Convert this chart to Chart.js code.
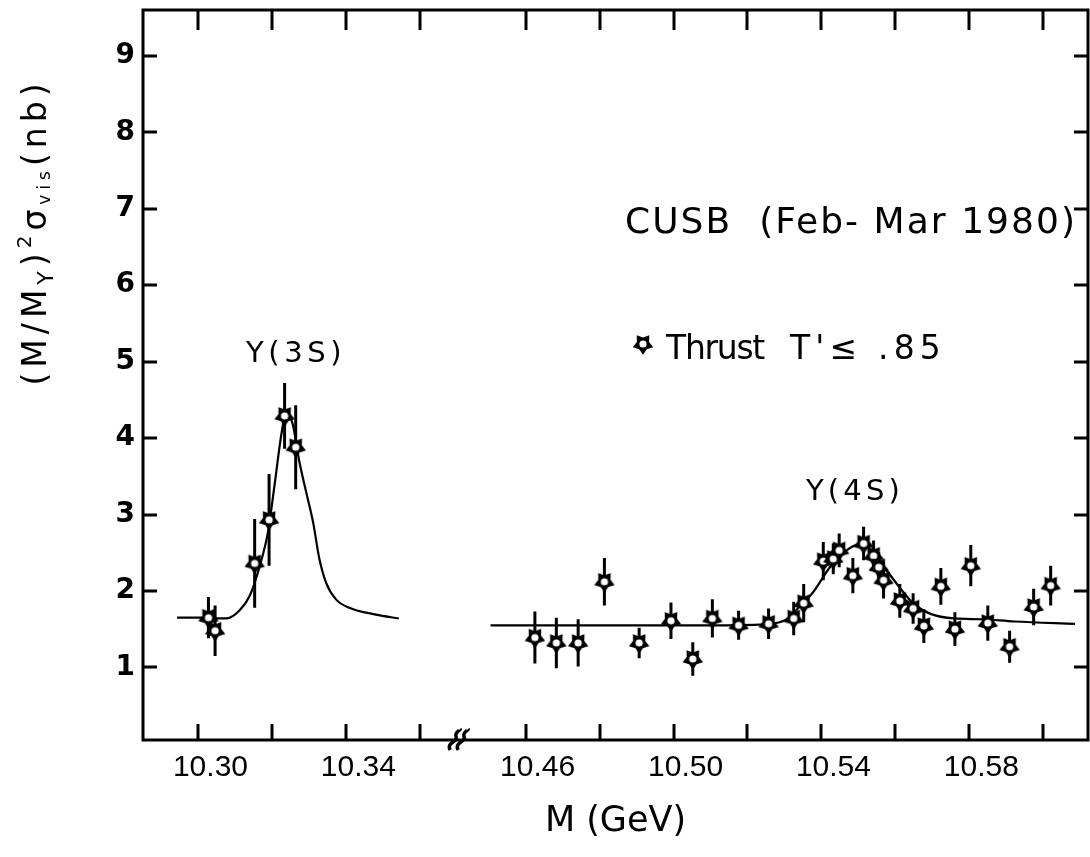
<!DOCTYPE html>
<html><head><meta charset="utf-8">
<script src="https://cdn.jsdelivr.net/npm/chart.js@4/dist/chart.umd.min.js"></script>
<style>html,body{margin:0;padding:0;background:#fff;overflow:hidden}#wrap{width:1090px;height:857px;position:relative}</style>
</head><body><div id="wrap"><canvas id="c"></canvas></div>
<script>
// ---- data ----
const mass3S  = [10.3027, 10.3045, 10.3152, 10.3191, 10.3233, 10.3263];
const sigma3S = [1.65, 1.48, 2.36, 2.93, 4.29, 3.88];
const err3S   = [0.27, 0.33, 0.58, 0.60, 0.43, 0.55];

const mass4S  = [10.4625,10.4683,10.4742,10.4813,10.4907,10.4993,10.5052,10.5105,10.5176,10.5257,
                 10.5325,10.5352,10.5405,10.5432,10.5448,10.5485,10.5514,10.5541,10.5555,10.5568,
                 10.5612,10.5648,10.5677,10.5723,10.5761,10.5804,10.5850,10.5909,10.5974,10.6020];
const sigma4S = [1.39,1.32,1.32,2.12,1.32,1.61,1.11,1.64,1.55,1.57,
                 1.64,1.84,2.39,2.42,2.53,2.20,2.62,2.46,2.31,2.14,
                 1.87,1.77,1.54,2.06,1.50,2.33,1.58,1.27,1.79,2.07];
const err4S   = [0.34,0.33,0.31,0.31,0.20,0.24,0.22,0.25,0.19,0.20,
                 0.22,0.25,0.25,0.20,0.22,0.23,0.22,0.20,0.20,0.24,
                 0.22,0.20,0.22,0.24,0.22,0.27,0.23,0.21,0.24,0.26];

const fit3SMass  = [10.2942,10.3005,10.3076,10.3112,10.3139,10.3166,10.3188,10.3206,10.3224,10.3238,
                    10.3255,10.3273,10.3291,10.3310,10.3327,10.3345,10.3372,10.3408,10.3480,10.3542];
const fit3SSigma = [1.65,1.65,1.64,1.75,1.94,2.33,2.77,3.39,4.04,4.35,
                    4.18,3.69,3.30,2.90,2.42,2.11,1.89,1.78,1.69,1.64];

const fit4SMass  = [10.4505,10.4796,10.5069,10.5232,10.5287,10.5314,10.5341,10.5377,10.5423,10.5468,
                    10.5496,10.5532,10.5567,10.5614,10.5650,10.5695,10.5759,10.5832,10.5922,10.6086];
const fit4SSigma = [1.55,1.55,1.55,1.56,1.59,1.65,1.80,1.98,2.31,2.53,
                    2.60,2.55,2.33,2.03,1.83,1.70,1.64,1.63,1.60,1.57];

const xTickValues = [10.30,10.32,10.34,10.36,10.46,10.48,10.50,10.52,10.54,10.56,10.58,10.60];
const xTickLabels = ['10.30','10.34','10.46','10.50','10.54','10.58'];
const yTickValues = [1,2,3,4,5,6,7,8,9];

// ---- broken axis mapping ----
const GAP_SHIFT = 0.0715;      // width of the removed mass interval
const GAP_SPLIT = 10.40;       // masses above this lie on the right segment
const AXIS_SPLIT = 10.375;     // same split in axis units
const BREAK_MASS = 10.3705;    // where the break mark sits
const toAxis = m => (m > GAP_SPLIT ? m - GAP_SHIFT : m);
const fromAxis = a => (a > AXIS_SPLIT ? a + GAP_SHIFT : a);
const X_MIN = 10.285, X_MAX = 10.5406;

function makeStar(size) {
  const c = document.createElement('canvas');
  c.width = size; c.height = size;
  const g = c.getContext('2d');
  const cx = size / 2, cy = size / 2, R = size / 2 - 0.3, r = R * 0.6;
  g.beginPath();
  for (let i = 0; i < 10; i++) {
    const ang = Math.PI / 2 + i * Math.PI / 5;
    const rad = i % 2 === 0 ? R : r;
    const x = cx + rad * Math.cos(ang), y = cy + rad * Math.sin(ang);
    if (i === 0) g.moveTo(x, y); else g.lineTo(x, y);
  }
  g.closePath(); g.fillStyle = '#000'; g.fill();
  g.beginPath(); g.arc(cx, cy, 3.6, 0, 2 * Math.PI); g.fillStyle = '#fff'; g.fill();
  return c;
}
const starImg = makeStar(22);

function pts(ms, vs) { return ms.map((m, i) => ({ x: toAxis(m), y: vs[i] })); }
function errPts(ms, vs, es) {
  const out = [];
  ms.forEach((m, i) => {
    out.push({ x: toAxis(m), y: vs[i] - es[i] }, { x: toAxis(m), y: vs[i] + es[i] }, { x: toAxis(m), y: null });
  });
  return out;
}

function fitText(ctx, text, x, y, font, targetW) {
  ctx.font = font;
  ctx.letterSpacing = '0px';
  const w = ctx.measureText(text).width;
  const n = [...text].length;
  if (targetW) ctx.letterSpacing = ((targetW - w) / n) + 'px';
  ctx.fillText(text, x, y);
  ctx.letterSpacing = '0px';
}

const zeroPad = s => { s.paddingTop = 0; s.paddingBottom = 0; s.paddingLeft = 0; s.paddingRight = 0; };

const decor = {
  id: 'decor',
  afterDraw(chart) {
    const ctx = chart.ctx, a = chart.chartArea;
    const xs = chart.scales.x, ys = chart.scales.y;
    ctx.save();
    ctx.strokeStyle = '#000'; ctx.fillStyle = '#000';
    ctx.lineWidth = 3; ctx.lineCap = 'butt';
    ctx.strokeRect(a.left, a.top, a.right - a.left, a.bottom - a.top);
    ctx.beginPath();
    xTickValues.forEach(v => {
      const px = Math.round(xs.getPixelForValue(toAxis(v)));
      ctx.moveTo(px, a.bottom); ctx.lineTo(px, a.bottom - 16);
      ctx.moveTo(px, a.top); ctx.lineTo(px, a.top + 20);
    });
    yTickValues.forEach(v => {
      const py = Math.round(ys.getPixelForValue(v));
      ctx.moveTo(a.left, py); ctx.lineTo(a.left + 14, py);
      ctx.moveTo(a.right, py); ctx.lineTo(a.right - 14, py);
    });
    ctx.stroke();
    // break mark
    const bx = xs.getPixelForValue(BREAK_MASS), by = a.bottom;
    ctx.lineWidth = 3.5;
    [-4, 4].forEach(d => {
      ctx.beginPath();
      ctx.moveTo(bx + d - 5, by + 10);
      ctx.bezierCurveTo(bx + d - 9, by + 2, bx + d + 3, by + 2, bx + d + 1, by - 3);
      ctx.bezierCurveTo(bx + d - 1, by - 8, bx + d + 6, by - 10, bx + d + 5, by - 11);
      ctx.stroke();
    });
    // y title with sub/superscripts
    ctx.translate(37, 232);
    ctx.rotate(-Math.PI / 2);
    ctx.textBaseline = 'middle';
    const segs = [
      { t: '(M/M', f: 33, dy: 0 }, { t: 'Υ', f: 22, dy: 10 }, { t: ')', f: 33, dy: 0 },
      { t: '2', f: 20, dy: -11 }, { t: 'σ', f: 33, dy: 0 }, { t: 'vis', f: 17, dy: 9 }, { t: '(nb)', f: 33, dy: 0 }
    ];
    const fam = '"DejaVu Sans"';
    const spacing = 5;
    let total = 0;
    segs.forEach(s => { ctx.font = s.f + 'px ' + fam; s.w = ctx.measureText(s.t).width + spacing * [...s.t].length; total += s.w; });
    let cx = -total / 2;
    segs.forEach(s => {
      ctx.font = s.f + 'px ' + fam;
      ctx.letterSpacing = spacing + 'px';
      ctx.fillText(s.t, cx, s.dy);
      cx += s.w;
    });
    ctx.letterSpacing = '0px';
    ctx.restore();

    // annotations
    ctx.save();
    ctx.fillStyle = '#000';
    ctx.textBaseline = 'alphabetic';
    ctx.textAlign = 'left';
    fitText(ctx, 'CUSB  (Feb- Mar 1980)', 625, 233, '36px "DejaVu Sans"', 452);
    ctx.drawImage(starImg, 632, 333);
    fitText(ctx, 'Thrust', 666, 359, '33px "DejaVu Sans"', 98);
    fitText(ctx, "T'\u2264 .85", 790, 359, '33px "DejaVu Sans"', 156);
    fitText(ctx, '\u03A5(3S)', 246, 362, '29px "DejaVu Sans"', 100);
    fitText(ctx, '\u03A5(4S)', 806, 500, '29px "DejaVu Sans"', 98);
    ctx.restore();
  }
};

new Chart(document.getElementById('c'), {
  type: 'line',
  data: {
    datasets: [
      { label: "Thrust T'\u2264 .85 (\u03A5(3S))", data: pts(mass3S, sigma3S), showLine: false,
        pointStyle: starImg, pointRadius: 11, order: 0 },
      { label: "Thrust T'\u2264 .85 (\u03A5(4S))", data: pts(mass4S, sigma4S), showLine: false,
        pointStyle: starImg, pointRadius: 11, order: 0 },
      { label: 'errors 3S', data: errPts(mass3S, sigma3S, err3S), borderColor: '#000', borderWidth: 3,
        pointRadius: 0, spanGaps: false, tension: 0, order: 1 },
      { label: 'errors 4S', data: errPts(mass4S, sigma4S, err4S), borderColor: '#000', borderWidth: 3,
        pointRadius: 0, spanGaps: false, tension: 0, order: 1 },
      { label: 'fit 3S', data: pts(fit3SMass, fit3SSigma), borderColor: '#000', borderWidth: 2.2,
        pointRadius: 0, cubicInterpolationMode: 'monotone', order: 2 },
      { label: 'fit 4S', data: pts(fit4SMass, fit4SSigma), borderColor: '#000', borderWidth: 2.2,
        pointRadius: 0, cubicInterpolationMode: 'monotone', order: 2 }
    ]
  },
  options: {
    responsive: true, maintainAspectRatio: false, animation: false,
    layout: { autoPadding: false, padding: { top: 10, right: 2, left: 0, bottom: 0 } },
    plugins: { legend: { display: false }, tooltip: { enabled: false } },
    scales: {
      x: {
        type: 'linear', min: X_MIN, max: X_MAX,
        afterBuildTicks: s => { s.ticks = xTickValues.map(v => ({ value: toAxis(v) })); },
        afterFit: s => { s.height = 117; zeroPad(s); },
        grid: { display: false, drawTicks: false }, border: { display: false },
        ticks: {
          autoSkip: false, maxRotation: 0, minRotation: 0, padding: 10, labelOffset: 12, color: '#000',
          font: { family: '"Liberation Sans"', size: 30 },
          callback: v => { const m = fromAxis(v).toFixed(2); return xTickLabels.includes(m) ? m : ''; }
        },
        title: { display: true, text: 'M (GeV)', color: '#000', font: { family: '"DejaVu Sans"', size: 35 },
                 padding: { top: 0, bottom: 14 } }
      },
      y: {
        min: 0.05, max: 9.6,
        afterBuildTicks: s => { s.ticks = yTickValues.map(v => ({ value: v })); },
        afterFit: s => { s.width = 143; zeroPad(s); },
        grid: { display: false, drawTicks: false }, border: { display: false },
        ticks: { padding: 8, color: '#000', font: { family: '"DejaVu Sans"', size: 28, weight: 'bold' } }
      }
    }
  },
  plugins: [decor]
});
</script>
</body></html>
